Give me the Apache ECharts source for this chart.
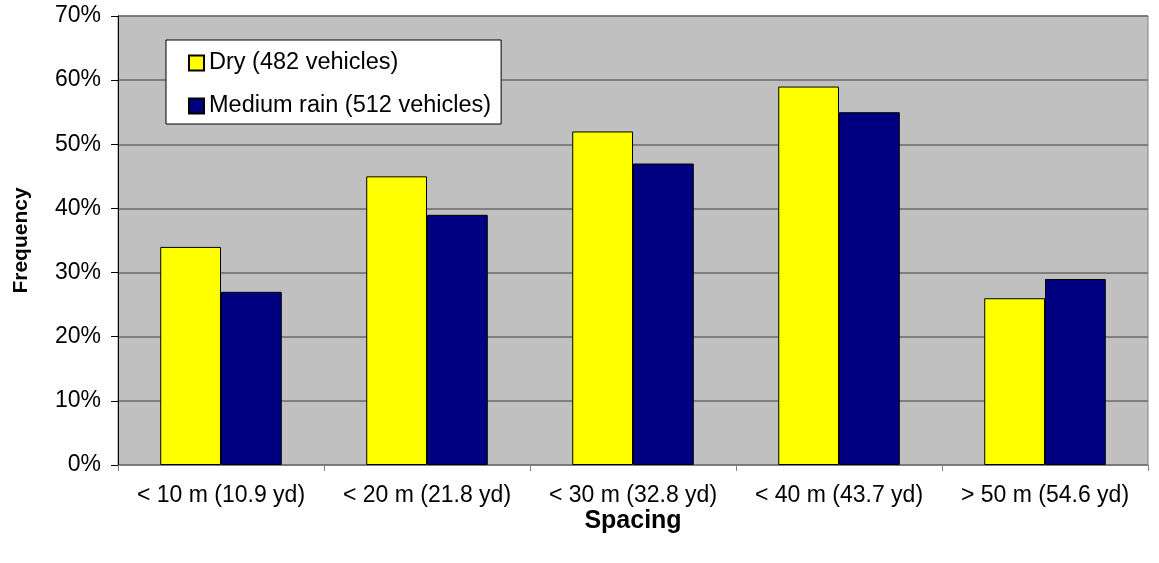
<!DOCTYPE html>
<html><head><meta charset="utf-8">
<script src="https://cdn.jsdelivr.net/npm/echarts@6/dist/echarts.min.js"></script>
<style>html,body{margin:0;padding:0;background:#fff}#c{width:1159px;height:563px}</style>
</head><body><div id="c"></div>
<script>
var categories = ['< 10 m (10.9 yd)', '< 20 m (21.8 yd)', '< 30 m (32.8 yd)', '< 40 m (43.7 yd)', '> 50 m (54.6 yd)'];
var dryValues = [34, 45, 52, 59, 26];
var rainValues = [27, 39, 47, 55, 29];
var seriesNames = ['Dry (482 vehicles)', 'Medium rain (512 vehicles)'];
var FONT = '"Liberation Sans", Arial, sans-serif';
var chart = echarts.init(document.getElementById('c'));
chart.setOption({
  animation: false,
  backgroundColor: '#fff',
  grid: { left: 118, right: 11, top: 16, bottom: 98, show: true, backgroundColor: '#C0C0C0', borderColor: '#808080', borderWidth: 1 },
  legend: {
    orient: 'vertical', left: 166, top: 40,
    backgroundColor: '#fff', borderColor: '#000', borderWidth: 1,
    padding: [11, 10, 6, 22], itemGap: 19, itemWidth: 15, itemHeight: 15,
    textStyle: { fontFamily: FONT, fontSize: 23.5, color: '#000', lineHeight: 23 },
    data: seriesNames.map(function (n) { return { name: n, icon: 'rect' }; })
  },
  xAxis: {
    type: 'category', data: categories,
    name: 'Spacing', nameLocation: 'middle', nameGap: 44, nameMoveOverlap: false,
    nameTextStyle: { fontFamily: FONT, fontSize: 25, fontWeight: 'bold', color: '#000' },
    axisLine: { lineStyle: { color: '#808080', width: 1 } },
    axisTick: { show: true, length: 6, lineStyle: { color: '#808080' } },
    axisLabel: { fontFamily: FONT, fontSize: 23, color: '#000', margin: 19, interval: 0, hideOverlap: false }
  },
  yAxis: {
    type: 'value', min: 0, max: 70, interval: 10,
    name: 'Frequency', nameLocation: 'middle', nameGap: 86, nameRotate: 90,
    nameTextStyle: { fontFamily: FONT, fontSize: 21, fontWeight: 'bold', color: '#000' },
    axisLine: { show: true, lineStyle: { color: '#000', width: 1 } },
    axisTick: { show: true, length: 7, lineStyle: { color: '#000' } },
    axisLabel: { fontFamily: FONT, fontSize: 23, color: '#000', margin: 17, formatter: '{value}%' },
    splitLine: { show: true, lineStyle: { color: '#6a6a6a', width: 1.5 } }
  },
  series: [
    { name: seriesNames[0], type: 'bar', data: dryValues, barGap: '0%', barCategoryGap: '41%',
      itemStyle: { color: '#FFFF00', borderColor: '#000', borderWidth: 1 } },
    { name: seriesNames[1], type: 'bar', data: rainValues,
      itemStyle: { color: '#000080', borderColor: '#000', borderWidth: 1 } }
  ]
});
</script></body></html>
